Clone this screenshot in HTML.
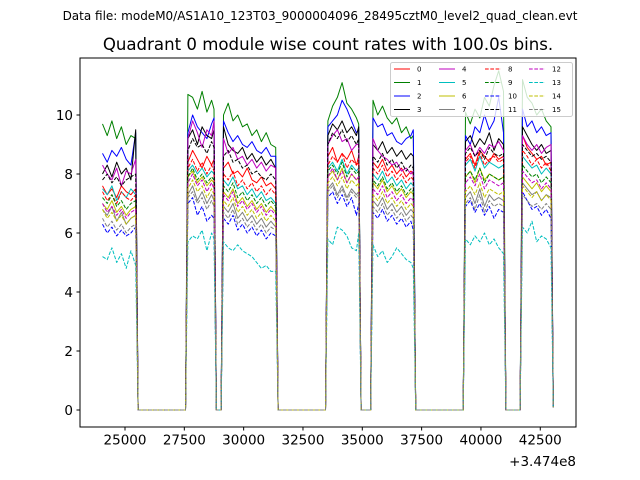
<!DOCTYPE html>
<html><head><meta charset="utf-8"><style>
body{margin:0;background:#fff}
svg{display:block;font-family:"DejaVu Sans","Liberation Sans",sans-serif}
</style></head><body>
<svg id="chart" width="640" height="480" viewBox="0 0 640 480">
<rect width="640" height="480" fill="#fff"/>
<text x="320" y="20" text-anchor="middle" font-size="12">Data file: modeM0/AS1A10_123T03_9000004096_28495cztM0_level2_quad_clean.evt</text>
<text x="328" y="50" text-anchor="middle" font-size="16.6">Quadrant 0 module wise count rates with 100.0s bins.</text>
<g id="plot"></g>
<g id="axes"></g>
<g id="legend"></g>
</svg>
<script>
const times = [24050,24250,24450,24650,24850,25050,25250,25450, 25550,27550,
 27650,27850,28050,28250,28450,28650,28750, 28850,29050,
 29150,29350,29550,29750,29950,30150,30350,30550,30750,30950,31150,31350, 31450,33450,
 33550,33750,33950,34150,34350,34550,34750,34850, 34950,35350,
 35450,35650,35850,36050,36250,36450,36650,36850,37050,37150, 37250,39250,
 39350,39550,39750,39950,40150,40350,40550,40750,40950, 41050,41650,
 41750,41950,42150,42350,42550,42750,42950,43050];
const s0 = [7.6,7.3,7.5,7.2,7.6,7.4,7.3,7.5,0,0,8.4,8.8,8.5,8.2,8.6,8.3,8.5,0,0,8.2,8.4,8.0,8.1,7.9,8.2,7.8,7.7,7.9,7.6,7.7,7.5,0,0,8.6,8.9,8.4,8.7,8.5,8.8,8.3,8.6,0,0,8.4,8.2,8.5,8.1,8.3,8.0,8.2,7.9,8.1,8.0,0,0,8.5,8.7,8.3,8.8,8.6,8.4,8.7,8.5,8.6,0,0,9.3,8.9,8.7,8.5,8.6,8.3,8.4,0.1];
const s1 = [9.7,9.3,9.8,9.2,9.6,9.0,9.3,9.2,0,0,10.7,10.6,10.2,10.8,10.1,10.5,10.2,0,0,10.0,10.4,9.8,10.0,9.6,9.7,9.3,9.5,9.1,9.4,9.0,8.9,0,0,9.8,10.3,10.6,11.1,10.4,10.2,9.9,9.7,0,0,10.5,10.0,10.3,9.9,9.7,9.9,9.4,9.6,9.2,9.3,0,0,10.1,9.7,10.2,9.9,10.6,10.3,11.0,11.5,10.8,0,0,11.2,10.6,10.4,10.0,10.2,9.8,9.6,0.1];
const s2 = [8.7,8.4,8.8,8.6,8.9,8.5,8.3,9.4,0,0,9.4,10.0,9.6,9.4,9.2,9.7,9.9,0,0,9.8,9.4,9.1,9.3,9.0,8.9,9.1,8.8,8.7,8.9,8.6,8.6,0,0,9.6,9.8,10.0,10.5,10.2,9.8,9.4,9.5,0,0,9.9,9.6,9.7,9.3,9.4,9.1,9.0,9.2,9.3,9.5,0,0,9.3,9.0,9.6,9.4,10.0,9.5,9.8,10.6,9.4,0,0,10.2,9.6,9.8,9.4,9.6,9.3,9.4,0.1];
const s3 = [8.0,8.3,7.9,8.4,8.0,8.2,7.8,9.5,0,0,9.2,9.5,9.0,9.6,9.3,9.2,9.5,0,0,9.6,9.0,8.8,8.7,8.9,8.5,8.7,8.4,8.6,8.3,8.5,8.2,0,0,9.3,9.7,9.5,9.8,9.4,9.6,9.3,9.6,0,0,9.0,8.8,9.1,8.7,8.9,8.6,8.8,8.5,8.7,8.6,0,0,9.1,9.3,8.9,9.2,9.0,9.4,8.8,9.2,9.0,0,0,9.6,9.3,9.0,8.8,9.0,8.7,8.8,0.1];
const s4 = [8.3,8.0,7.8,8.2,7.6,8.1,8.0,8.5,0,0,9.2,9.8,9.4,8.9,9.5,9.3,9.8,0,0,9.2,8.7,8.9,8.5,8.6,8.3,8.5,8.2,8.4,8.1,8.3,8.2,0,0,9.0,9.3,9.5,9.1,9.2,8.8,9.0,9.0,0,0,9.2,8.8,8.6,8.5,8.3,8.4,8.1,8.2,8.0,8.1,0,0,8.8,9.0,8.6,8.9,8.7,9.0,8.9,9.1,8.8,0,0,9.3,9.0,8.8,9.0,8.7,8.9,9.0,0.1];
const s5 = [7.5,7.3,7.6,7.1,7.4,7.2,7.5,7.3,0,0,8.1,8.3,8.0,8.2,7.9,8.1,8.0,0,0,7.8,7.6,7.9,7.5,7.6,7.3,7.5,7.2,7.4,7.1,7.2,7.0,0,0,8.2,8.4,8.1,8.5,8.0,8.3,8.1,8.2,0,0,8.0,7.8,8.1,7.7,7.9,7.6,7.8,7.5,7.7,7.6,0,0,8.3,8.5,8.1,8.6,8.2,8.4,8.3,8.2,8.3,0,0,8.6,8.4,8.2,8.3,8.0,8.2,8.0,0.1];
const s6 = [7.0,6.8,7.1,6.7,6.9,6.6,6.8,6.9,0,0,7.9,8.1,7.7,7.9,7.6,7.8,7.7,0,0,7.4,7.2,7.5,7.0,7.2,6.9,7.1,6.8,7.0,6.7,6.9,6.7,0,0,7.9,8.1,7.8,8.2,7.7,8.0,7.8,7.9,0,0,7.7,7.5,7.8,7.4,7.6,7.3,7.5,7.2,7.4,7.3,0,0,7.9,8.1,7.7,8.2,7.8,8.0,7.9,7.8,7.9,0,0,7.9,7.7,7.5,7.7,7.4,7.6,7.4,0.1];
const s7 = [6.8,6.6,6.9,6.4,6.7,6.3,6.5,6.6,0,0,7.3,7.6,7.1,7.4,7.0,7.3,7.1,0,0,6.9,6.7,7.0,6.5,6.7,6.4,6.6,6.3,6.5,6.2,6.4,6.2,0,0,7.5,7.7,7.3,7.6,7.2,7.5,7.3,7.4,0,0,7.1,6.9,7.2,6.8,7.0,6.7,6.9,6.6,6.8,6.7,0,0,7.2,7.4,7.0,7.5,6.9,7.3,7.1,7.2,7.1,0,0,7.7,7.5,7.3,7.4,7.1,7.3,7.2,0.1];
const s8 = [7.4,7.1,7.3,7.0,7.4,7.2,7.1,7.3,0,0,8.2,8.5,8.1,8.4,8.0,8.3,8.1,0,0,8.0,7.8,8.1,7.6,7.8,7.5,7.7,7.4,7.6,7.3,7.5,7.3,0,0,8.3,8.6,8.4,8.7,8.2,8.5,8.3,8.4,0,0,8.2,8.0,8.3,7.9,8.1,7.8,8.0,7.7,7.9,7.8,0,0,8.4,8.6,8.2,8.7,8.3,8.5,8.6,8.4,8.5,0,0,8.8,8.6,8.3,8.5,8.2,8.4,8.1,0.1];
const s9 = [7.2,7.0,7.3,6.9,7.1,6.8,7.0,7.1,0,0,7.9,8.2,7.8,8.0,7.7,7.9,7.8,0,0,7.6,7.4,7.7,7.2,7.4,7.1,7.3,7.0,7.2,6.9,7.1,6.9,0,0,8.1,8.3,8.0,8.4,7.9,8.2,8.0,8.1,0,0,7.8,7.6,7.9,7.5,7.7,7.4,7.6,7.3,7.5,7.4,0,0,7.9,8.1,7.8,8.2,7.7,8.0,7.9,7.8,7.9,0,0,8.3,8.1,7.9,8.0,7.7,7.9,7.7,0.1];
const s10 = [6.3,6.0,6.2,5.9,6.1,5.9,6.0,6.2,0,0,7.0,7.2,6.6,6.9,6.4,6.6,6.5,0,0,6.5,6.3,6.6,6.1,6.3,6.0,6.2,5.9,6.1,5.8,6.0,5.9,0,0,7.2,7.4,7.0,7.3,6.9,7.2,6.6,7.0,0,0,6.7,6.5,6.8,6.4,6.6,6.3,6.5,6.2,6.4,6.1,0,0,6.9,7.1,6.7,7.0,6.6,6.9,6.5,6.8,6.7,0,0,7.4,7.1,6.8,6.9,6.6,6.8,6.5,0.1];
const s11 = [7.8,8.0,7.7,7.9,7.6,7.8,7.9,8.0,0,0,8.8,9.2,8.9,9.0,8.7,9.1,8.9,0,0,8.6,8.8,8.4,8.5,8.2,8.3,8.0,8.1,7.9,7.8,8.0,7.8,0,0,9.0,9.4,9.2,9.5,9.1,9.3,9.0,9.2,0,0,8.6,8.4,8.7,8.3,8.5,8.2,8.4,8.1,8.3,8.2,0,0,8.7,8.9,8.6,8.8,8.5,8.9,8.7,8.6,8.7,0,0,9.0,8.8,8.6,8.7,8.5,8.6,8.4,0.1];
const s12 = [7.0,6.7,6.9,6.6,6.8,6.5,6.7,6.8,0,0,7.7,8.0,7.6,7.8,7.4,7.7,7.5,0,0,7.3,7.1,7.4,6.9,7.1,6.8,7.0,6.7,6.9,6.6,6.8,6.6,0,0,7.9,8.2,7.8,8.1,7.7,8.0,7.8,7.9,0,0,7.5,7.3,7.6,7.2,7.4,7.1,7.3,7.0,7.2,7.1,0,0,7.7,7.9,7.6,8.0,7.5,7.8,7.7,7.6,7.7,0,0,8.1,7.9,7.7,7.8,7.5,7.7,7.5,0.1];
const s13 = [5.2,5.1,5.5,5.0,5.3,4.8,5.4,4.9,0,0,5.7,5.9,5.8,6.1,5.4,6.0,5.8,0,0,5.7,5.5,5.4,5.6,5.4,5.3,5.2,5.0,4.8,4.9,4.7,4.7,0,0,5.8,5.6,6.2,6.1,5.9,5.5,5.4,6.0,0,0,5.6,5.2,5.4,5.0,5.2,5.5,5.3,5.1,5.0,4.8,0,0,5.8,5.6,5.9,5.7,6.0,5.6,5.8,5.5,5.3,0,0,6.2,6.0,6.4,5.7,5.9,5.8,5.5,0.1];
const s14 = [6.8,6.5,6.7,6.4,6.6,6.3,6.5,6.6,0,0,7.5,7.8,7.4,7.6,7.2,7.5,7.3,0,0,7.1,6.9,7.2,6.7,6.9,6.6,6.8,6.5,6.7,6.4,6.6,6.4,0,0,7.7,7.9,7.6,7.9,7.5,7.8,7.6,7.7,0,0,7.3,7.1,7.4,7.0,7.2,6.9,7.1,6.8,7.0,6.9,0,0,7.4,7.6,7.3,7.7,7.2,7.5,7.4,7.3,7.4,0,0,7.6,7.4,7.2,7.4,7.1,7.3,7.1,0.1];
const s15 = [6.5,6.2,6.4,6.1,6.3,6.0,6.2,6.3,0,0,7.2,7.4,7.0,7.2,6.8,7.1,6.9,0,0,6.7,6.5,6.8,6.3,6.5,6.2,6.4,6.1,6.3,6.0,6.2,6.1,0,0,7.4,7.6,7.2,7.5,7.1,7.4,7.2,7.3,0,0,6.9,6.7,7.0,6.6,6.8,6.5,6.7,6.4,6.6,6.5,0,0,7.0,7.2,6.8,7.3,6.7,7.1,6.9,7.0,6.9,0,0,7.3,7.1,6.9,7.0,6.8,7.0,6.8,0.1];
const seriesNames = ["0","1","2","3","4","5","6","7","8","9","10","11","12","13","14","15"];
const xTicks = [25000,27500,30000,32500,35000,37500,40000,42500];
const yTicks = [0,2,4,6,8,10];

const allSeries = [s0,s1,s2,s3,s4,s5,s6,s7,s8,s9,s10,s11,s12,s13,s14,s15];
const colors = ["#ff0000","#008000","#0000ff","#000000","#bf00bf","#00bfbf","#bfbf00","#808080"];
const L=80,R=576,T=58,B=427;
function xs(v){return 125+(v-25000)*0.02373;}
function ys(v){return 410-v*29.5;}
const NS="http://www.w3.org/2000/svg";
function mk(tag,attrs,parent){const e=document.createElementNS(NS,tag);for(const k in attrs)e.setAttribute(k,attrs[k]);parent.appendChild(e);return e;}
const plot=document.getElementById('plot');
const axes=document.getElementById('axes');
const leg=document.getElementById('legend');
const defs=mk('defs',{},plot);
const cp=mk('clipPath',{id:'clip'},defs);
mk('rect',{x:L,y:T,width:R-L,height:B-T},cp);
const lines=mk('g',{'clip-path':'url(#clip)'},plot);
allSeries.forEach((s,i)=>{
  const d=s.map((v,j)=>(j?'L':'M')+xs(times[j]).toFixed(1)+','+ys(v).toFixed(1)).join('');
  const p=mk('path',{d:d,fill:'none',stroke:colors[i%8],'stroke-width':1,'stroke-linejoin':'round'},lines);
  if(i>=8)p.setAttribute('stroke-dasharray','3.7,1.6');
  
  
});
const frame=mk('rect',{x:L,y:T,width:R-L,height:B-T,fill:'none',stroke:'#000','stroke-width':1},axes);


xTicks.forEach(v=>{
  const x=xs(v);
  const t=mk('line',{x1:x,y1:B,x2:x,y2:B+3.5,stroke:'#000'},axes);
  
  
  const l=mk('text',{x:x,y:B+17.5,'text-anchor':'middle','font-size':'13.5'},axes);
  l.textContent=v;
  
  
});
yTicks.forEach(v=>{
  const y=ys(v);
  const t=mk('line',{x1:L-3.5,y1:y,x2:L,y2:y,stroke:'#000'},axes);
  
  
  const l=mk('text',{x:L-7,y:y+5,'text-anchor':'end','font-size':'13.5'},axes);
  l.textContent=v;
  
  
});
const off=mk('text',{x:R,y:466,'text-anchor':'end','font-size':'13.5'},axes);
off.textContent='+3.474e8';


const lb=mk('rect',{x:390.5,y:62.5,width:182,height:54,rx:2,fill:'#fff','fill-opacity':0.8,stroke:'#ccc','stroke-width':1},leg);


const colX=[394,439,485,529];
const rowY=[69,82.5,96,109.5];
seriesNames.forEach((n,i)=>{
  const c=Math.floor(i/4),r=i%4;
  const g=mk('g',{},leg);
  
  
  const ln=mk('line',{x1:colX[c],y1:rowY[r],x2:colX[c]+16,y2:rowY[r],stroke:colors[i%8],'stroke-width':1},g);
  if(i>=8)ln.setAttribute('stroke-dasharray','3.7,1.6');
  const tx=mk('text',{x:colX[c]+23,y:rowY[r]+2.5,'font-size':'7'},g);
  tx.textContent=n;
});
</script>
</body></html>
